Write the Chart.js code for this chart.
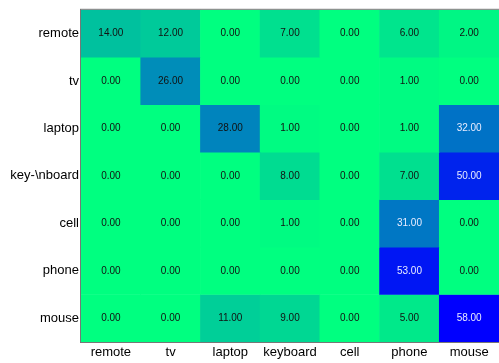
<!DOCTYPE html>
<html>
<head>
<meta charset="utf-8">
<script src="https://cdn.jsdelivr.net/npm/chart.js@4"></script>
<style>
  html, body { margin: 0; padding: 0; background: #fff; }
  #wrap { width: 499px; height: 363px; }
</style>
</head>
<body>
<div id="wrap"><canvas id="heat"></canvas></div>
<script>
const cols = ['remote', 'tv', 'laptop', 'keyboard', 'cell', 'phone', 'mouse'];
const rows = ['remote', 'tv', 'laptop', 'key-\\nboard', 'cell', 'phone', 'mouse'];

const remoteRow = [14, 12, 0, 7, 0, 6, 2];
const tvRow = [0, 26, 0, 0, 0, 1, 0];
const laptopRow = [0, 0, 28, 1, 0, 1, 32];
const keyboardRow = [0, 0, 0, 8, 0, 7, 50];
const cellRow = [0, 0, 0, 1, 0, 31, 0];
const phoneRow = [0, 0, 0, 0, 0, 53, 0];
const mouseRow = [0, 0, 11, 9, 0, 5, 58];

const matrix = [remoteRow, tvRow, laptopRow, keyboardRow, cellRow, phoneRow, mouseRow];
const maxVal = Math.max(...matrix.flat());

// winter colormap, reversed: 0 -> green, max -> blue
function winterR(v) {
    let t = v / maxVal;
    let g = Math.round(255 * (1 - t));
    let b = Math.round(255 * (0.5 + 0.5 * t));
    return 'rgb(0,' + g + ',' + b + ')';
}

Chart.defaults.font.family = '"Liberation Sans", Arial, sans-serif';

const datasets = matrix.map((vals, i) => ({
    label: rows[i],
    data: vals.map(() => [i, i + 1]),
    backgroundColor: vals.map(v => winterR(v)),
    borderWidth: 0,
    barPercentage: 1,
    categoryPercentage: 1,
    grouped: false
}));

// cell numbers + frame
const cellText = {
    id: 'cellText',
    afterDatasetsDraw(chart) {
        let ctx = chart.ctx;
        let xs = chart.scales.x, ys = chart.scales.y;
        ctx.save();
        ctx.font = '10px "Liberation Sans", Arial, sans-serif';
        ctx.textAlign = 'center';
        ctx.textBaseline = 'middle';
        matrix.forEach((vals, i) => {
            vals.forEach((v, j) => {
                ctx.fillStyle = v > maxVal / 2 ? '#e8ecff' : '#111';
                ctx.fillText(v.toFixed(2), xs.getPixelForValue(j), ys.getPixelForValue(i + 0.5));
            });
        });
        let a = chart.chartArea;
        ctx.strokeStyle = '#777';
        ctx.lineWidth = 1;
        ctx.strokeRect(a.left - 0.5, a.top - 0.5, a.right - a.left + 1, a.bottom - a.top + 1);
        ctx.restore();
    }
};

new Chart(document.getElementById('heat'), {
    type: 'bar',
    data: { labels: cols, datasets: datasets },
    options: {
        responsive: true,
        maintainAspectRatio: false,
        animation: false,
        layout: { padding: { top: 9, right: 0, left: 0, bottom: 0 } },
        plugins: { legend: { display: false }, tooltip: { enabled: false } },
        scales: {
            x: {
                grid: { display: false, drawTicks: false },
                border: { display: false },
                ticks: { color: '#000', font: { size: 13 }, padding: 3, maxRotation: 0 },
                afterFit(s) { s.height = 21; }
            },
            y: {
                min: 0,
                max: 7,
                reverse: true,
                grid: { display: false, drawTicks: false },
                border: { display: false },
                afterBuildTicks(s) { s.ticks = rows.map((_, i) => ({ value: i + 0.5 })); },
                ticks: {
                    color: '#000',
                    font: { size: 13 },
                    padding: 2,
                    callback: (val, idx) => rows[idx]
                },
                afterFit(s) { s.width = 81; }
            }
        }
    },
    plugins: [cellText]
});
</script>
</body>
</html>
